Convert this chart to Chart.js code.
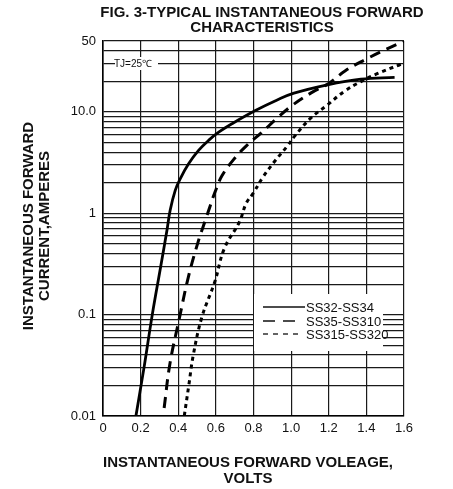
<!DOCTYPE html>
<html>
<head>
<meta charset="utf-8">
<script src="https://cdn.jsdelivr.net/npm/chart.js@4.4.0/dist/chart.umd.min.js"></script>
<style>
  html, body { margin: 0; padding: 0; background: #fff; }
  #wrap { width: 453px; height: 489px; }
</style>
</head>
<body>
<div id="wrap"><canvas id="ivChart" width="453" height="489"></canvas></div>
<script>
// Values: forward voltage (V) and forward current (A)
const solidVolts = [0.175, 0.218, 0.262, 0.307, 0.34, 0.357, 0.384, 0.411, 0.455, 0.508, 0.561, 0.615, 0.686, 0.81, 0.926, 1.015, 1.193, 1.371, 1.55];
const solidAmps = [0.01, 0.03, 0.1, 0.3, 0.68, 1.07, 1.68, 2.2, 3.08, 4.17, 5.23, 6.3, 7.64, 10.3, 13.1, 15.3, 18.5, 21, 21.9];

const dashedVolts = [0.325, 0.356, 0.406, 0.454, 0.508, 0.544, 0.571, 0.597, 0.633, 0.695, 0.766, 0.846, 0.917, 1.006, 1.104, 1.202, 1.29, 1.397, 1.5, 1.6];
const dashedAmps = [0.012, 0.033, 0.092, 0.236, 0.54, 0.85, 1.2, 1.65, 2.35, 3.4, 4.7, 6.3, 8.4, 11.6, 15.3, 19.2, 25.6, 33, 41, 50];

const dottedVolts = [0.432, 0.456, 0.48, 0.526, 0.594, 0.645, 0.725, 0.761, 0.797, 0.851, 0.917, 0.98, 1.02, 1.104, 1.193, 1.282, 1.371, 1.46, 1.575, 1.6];
const dottedAmps = [0.01, 0.02, 0.04, 0.095, 0.21, 0.45, 0.82, 1.25, 1.56, 2.28, 3.33, 4.6, 5.8, 8.66, 11.7, 15.9, 19.9, 23.9, 29, 30];

const seriesLabels = ['SS32-SS34', 'SS35-SS310', 'SS315-SS320'];

const xTickValues = [0, 0.2, 0.4, 0.6, 0.8, 1.0, 1.2, 1.4, 1.6];
const xTickLabels = ['0', '0.2', '0.4', '0.6', '0.8', '1.0', '1.2', '1.4', '1.6'];
const yTickValues = [0.01, 0.1, 1, 10, 50];
const yTickLabels = ['0.01', '0.1', '1', '10.0', '50'];
const yDecades = [0.01, 0.1, 1, 10];
const yGridMultipliers = [1, 2, 3, 4, 5, 6, 7, 8, 9];

const titleLines = ['FIG. 3-TYPICAL INSTANTANEOUS FORWARD', 'CHARACTERISTICS'];
const xTitleLines = ['INSTANTANEOUS FORWARD VOLEAGE,', 'VOLTS'];
const yTitleLines = ['INSTANTANEOUS FORWARD', 'CURRENT,AMPERES'];
const tempNote = 'TJ=25\u2103';

const FONT = "'Liberation Sans', Arial, sans-serif";

function pairs(xs, ys) {
    return xs.map((x, i) => ({ x: x, y: ys[i] }));
}

// every 1..9 multiple in each decade, up to the top of the axis
const yGridValues = [];
yDecades.forEach(d => {
    yGridMultipliers.forEach(m => {
        const v = Number((m * d).toPrecision(6));
        if (v <= 50) yGridValues.push(v);
    });
});

// titles, temperature note and the boxed legend
const textPlugin = {
    id: 'figText',
    beforeDatasetsDraw(chart) {
        const ctx = chart.ctx;
        ctx.save();

        // Tj note on white patch
        ctx.fillStyle = '#fff';
        ctx.fillRect(115, 57, 43, 13);
        ctx.fillStyle = '#111';
        ctx.font = '10px ' + FONT;
        ctx.textAlign = 'left';
        ctx.textBaseline = 'middle';
        ctx.fillText(tempNote, 114, 64);

        // legend box
        ctx.fillStyle = '#fff';
        ctx.fillRect(254, 294, 129, 57);
        const rows = [307, 321, 334];
        chart.data.datasets.forEach((ds, i) => {
            ctx.strokeStyle = '#111';
            ctx.lineWidth = 1.3;
            ctx.setLineDash(ds.legendDash);
            ctx.beginPath();
            ctx.moveTo(263, rows[i]);
            ctx.lineTo(ds.legendEnd, rows[i]);
            ctx.stroke();
            ctx.setLineDash([]);
            ctx.fillStyle = '#111';
            ctx.font = '13px ' + FONT;
            ctx.fillText(ds.label, 306, rows[i] + 1);
        });
        ctx.restore();
    },
    afterDraw(chart) {
        const ctx = chart.ctx;
        ctx.save();
        ctx.fillStyle = '#111';
        ctx.font = 'bold 15px ' + FONT;
        ctx.textAlign = 'center';
        ctx.textBaseline = 'middle';
        ctx.fillText(titleLines[0], 262, 13);
        ctx.fillText(titleLines[1], 262, 28);
        ctx.fillText(xTitleLines[0], 248, 463);
        ctx.fillText(xTitleLines[1], 248, 479);
        ctx.translate(29, 226);
        ctx.rotate(-Math.PI / 2);
        ctx.fillText(yTitleLines[0], 0, 0);
        ctx.fillText(yTitleLines[1], 0, 16);
        ctx.restore();
    }
};

const config = {
    type: 'line',
    data: {
        datasets: [{
            label: seriesLabels[0],
            data: pairs(solidVolts, solidAmps),
            borderColor: '#000',
            borderWidth: 2.8,
            legendDash: [],
            legendEnd: 305
        }, {
            label: seriesLabels[1],
            data: pairs(dashedVolts, dashedAmps),
            borderColor: '#000',
            borderWidth: 3,
            borderDash: [11, 7],
            legendDash: [12, 8],
            legendEnd: 295
        }, {
            label: seriesLabels[2],
            data: pairs(dottedVolts, dottedAmps),
            borderColor: '#000',
            borderWidth: 3,
            borderDash: [4, 4],
            legendDash: [5, 5],
            legendEnd: 300
        }]
    },
    options: {
        responsive: false,
        animation: false,
        devicePixelRatio: 1,
        layout: {
            padding: { top: 41, right: 49, left: 0, bottom: 0 }
        },
        elements: {
            point: { radius: 0 },
            line: { tension: 0.4, fill: false, borderCapStyle: 'butt' }
        },
        plugins: {
            legend: { display: false },
            title: { display: false },
            tooltip: { enabled: false }
        },
        scales: {
            x: {
                type: 'linear',
                min: 0,
                max: 1.6,
                afterBuildTicks: scale => {
                    scale.ticks = xTickValues.map(v => ({ value: v }));
                },
                afterFit: scale => { scale.height = 73; },
                grid: { color: '#1a1a1a', lineWidth: 1.2, drawTicks: false },
                border: { color: '#000', width: 1.6 },
                ticks: {
                    autoSkip: false,
                    maxRotation: 0,
                    padding: 5,
                    color: '#111',
                    font: { family: FONT, size: 13 },
                    callback: (v, i) => xTickLabels[i]
                }
            },
            y: {
                type: 'logarithmic',
                min: 0.01,
                max: 50,
                afterBuildTicks: scale => {
                    scale.ticks = yGridValues.map(v => ({ value: v }));
                },
                afterFit: scale => { scale.width = 103; },
                grid: { color: '#1a1a1a', lineWidth: 1.2, drawTicks: false },
                border: { color: '#000', width: 1.6 },
                ticks: {
                    autoSkip: false,
                    padding: 7,
                    color: '#111',
                    font: { family: FONT, size: 13 },
                    callback: v => {
                        const k = yTickValues.indexOf(v);
                        return k >= 0 ? yTickLabels[k] : '';
                    }
                }
            }
        }
    },
    plugins: [textPlugin]
};

const ctx = document.getElementById('ivChart').getContext('2d');
new Chart(ctx, config);
</script>
</body>
</html>
